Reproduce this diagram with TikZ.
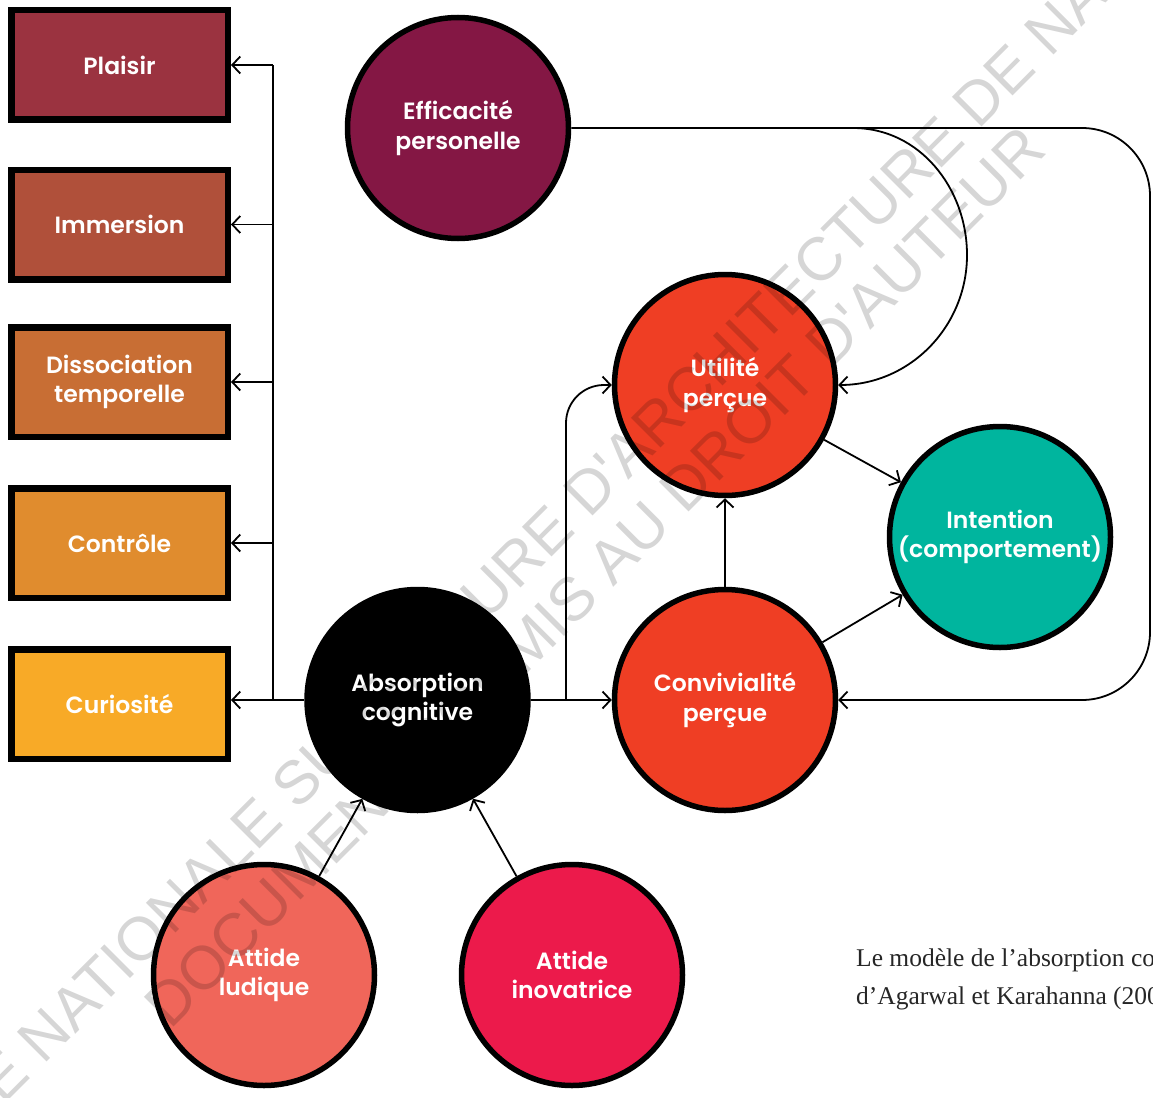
\documentclass[tikz,border=0pt]{standalone}
\usepackage{fontspec}
\usetikzlibrary{arrows.meta}

\newfontfamily\labelfont{Poppins}[UprightFont={* SemiBold}]
\newfontfamily\capfont{Liberation Serif}
\newfontfamily\wmfont{Liberation Sans}

\definecolor{cPlaisir}{HTML}{9B3340}
\definecolor{cImmersion}{HTML}{B0503A}
\definecolor{cDissoc}{HTML}{C86E34}
\definecolor{cControle}{HTML}{E08C2E}
\definecolor{cCuriosite}{HTML}{F8AA27}
\definecolor{cEff}{HTML}{841744}
\definecolor{cPercue}{HTML}{EF3E24}
\definecolor{cIntent}{HTML}{00B59E}
\definecolor{cLudique}{HTML}{F0665A}
\definecolor{cInov}{HTML}{EC1A4B}
\definecolor{cCaption}{HTML}{262626}

\tikzset{
  conn/.style={draw=black, line width=1.8pt},
  arr/.style={conn, -{Straight Barb[length=8pt,width=17pt]}},
  factor/.style={rectangle, draw=black, line width=6.5pt,
    minimum width=216.5pt, minimum height=109.5pt, inner sep=0pt,
    text=white, align=center,
    font=\labelfont\fontsize{23.5}{29.5}\selectfont},
  construct/.style={circle, draw=black, line width=5.5pt,
    minimum size=221pt, inner sep=0pt,
    text=white, align=center,
    font=\labelfont\fontsize{23.5}{29.5}\selectfont},
  capline/.style={anchor=base west, inner sep=0pt, text=cCaption,
    font=\capfont\fontsize{25.5}{30}\selectfont},
  watermark/.style={anchor=base west, inner sep=0pt, rotate=45,
    text=black, text opacity=0.16,
    font=\wmfont\fontsize{61}{61}\selectfont}
}

\begin{document}
\begin{tikzpicture}[x=1pt, y=1pt]
  \useasboundingbox (0,0) rectangle (1153,-1097);
  \clip (0,0) rectangle (1153,-1097);

  % facets of cognitive absorption
  \node[factor, fill=cPlaisir]   (plaisir)   at (119.5,-65)  {Plaisir};
  \node[factor, fill=cImmersion] (immersion) at (119.5,-224.5) {Immersion};
  \node[factor, fill=cDissoc]    (dissoc)    at (119.5,-382) {Dissociation\\temporelle};
  \node[factor, fill=cControle]  (controle)  at (119.5,-543) {Contrôle};
  \node[factor, fill=cCuriosite] (curiosite) at (119.5,-704) {Curiosité};

  % constructs
  \node[construct, fill=cEff]     (eff)    at (458,-128)   {Efficacité\\personelle};
  \node[construct, fill=cPercue]  (util)   at (725,-385)   {Utilité\\perçue};
  \node[construct, fill=cIntent]  (intent) at (1000,-537)  {Intention\\(comportement)};
  \node[construct, fill=cPercue]  (conv)   at (725,-700)   {Convivialité\\perçue};
  \node[construct, fill=black]    (abs)    at (417.5,-700) {Absorption\\cognitive};
  \node[construct, fill=cLudique] (lud)    at (264,-975)   {Attide\\ludique};
  \node[construct, fill=cInov]    (inov)   at (572,-975)   {Attide\\inovatrice};

  % routing points
  \coordinate (trunk)      at (273,-700);
  \coordinate (absplit)    at (566,-700);
  \coordinate (loopcorner) at (1150,-128);
  \coordinate (effsplit)   at (853,-128);
  \coordinate (effturn)    at (967,-255);

  % absorption towards its facets
  \draw[arr] (abs.west) -- (abs.west -| curiosite.east);
  \draw[conn] (trunk) -- (trunk |- plaisir.east);
  \foreach \b in {plaisir, immersion, dissoc, controle}
    \draw[arr] (trunk |- \b.east) -- (\b.east);

  % absorption towards perceived ease of use and usefulness
  \draw[arr] (abs.east) -- (conv.west);
  \draw[arr, rounded corners=38pt] (absplit) |- (util.west);

  % self-efficacy
  \draw[arr, rounded corners=68pt] (eff.east) -- (loopcorner)
    -- (loopcorner |- conv.east) -- (conv.east);
  \draw[arr] (effsplit) to[out=0, in=90] (effturn) to[out=-90, in=0] (util.east);

  % perceptions towards intention
  \draw[arr] (util) -- (intent);
  \draw[arr] (conv) -- (intent);
  \draw[arr] (conv) -- (util);

  % attitudes towards absorption
  \draw[arr] (lud) -- (abs);
  \draw[arr] (inov) -- (abs);

  % caption
  \node[capline] (cap1) at (856,-966)  {Le modèle de l’absorption co};
  \node[capline] (cap2) at (856,-1004) {d’Agarwal et Karahanna (200};

  % watermark
  \node[watermark] (wm1) at (3,-1106)   {E NATIONALE SUPÉRIEURE D'ARCHITECTURE DE NA};
  \node[watermark] (wm2) at (170,-1031) {DOCUMENT SOUMIS AU DROIT D'AUTEUR};
\end{tikzpicture}
\end{document}
